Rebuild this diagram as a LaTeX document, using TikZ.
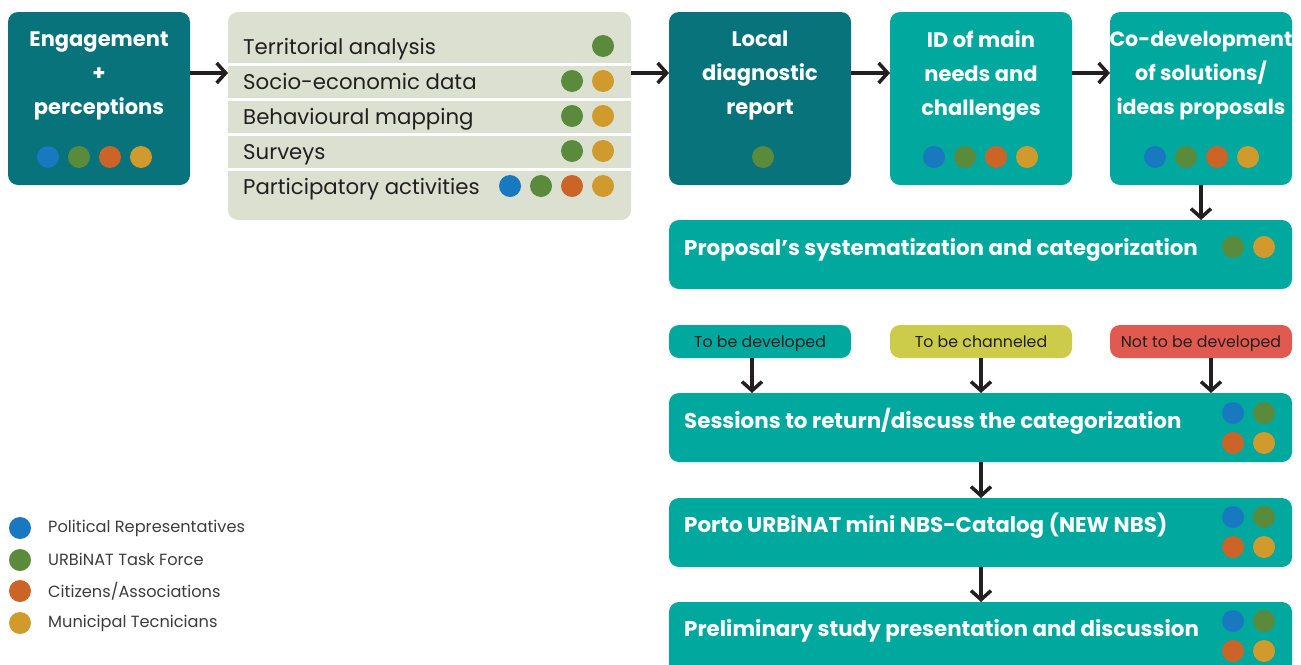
\documentclass[tikz,border=0pt]{standalone}
\usepackage{fontspec}
\setmainfont{Poppins}
\usetikzlibrary{arrows.meta,calc}

\definecolor{darkteal}{RGB}{8,115,123}
\definecolor{teal}{RGB}{0,168,157}
\definecolor{panel}{RGB}{219,224,208}
\definecolor{ink}{RGB}{35,31,32}
\definecolor{cblue}{RGB}{24,120,192}
\definecolor{cgreen}{RGB}{90,138,60}
\definecolor{corange}{RGB}{204,100,40}
\definecolor{cgold}{RGB}{208,155,44}
\definecolor{tagyellow}{RGB}{205,203,74}
\definecolor{tagred}{RGB}{224,90,80}
\definecolor{legtext}{RGB}{60,60,60}

\begin{document}
\begin{tikzpicture}[x=1pt,y=-1pt,
  box/.style={rounded corners=10pt, inner sep=0pt, outer sep=0pt, anchor=north west, draw=none},
  head/.style={text=white, font=\fontsize{21}{34}\selectfont\bfseries, align=center, inner sep=0pt},
  wide/.style={text=white, font=\fontsize{21.4}{24}\selectfont\bfseries, anchor=base west, inner sep=0pt},
  rowtext/.style={text=ink, font=\fontsize{21.3}{24}\selectfont, anchor=base west, inner sep=0pt},
  tagtext/.style={text=ink, font=\fontsize{15.8}{18}\selectfont, anchor=base, inner sep=0pt},
  legtxt/.style={text=legtext, font=\fontsize{16.2}{18}\selectfont, anchor=west, inner sep=0pt},
  dot/.style={circle, minimum size=22pt, inner sep=0pt, draw=none},
  arr/.style={draw=ink, line width=3.5pt, -{Straight Barb[length=9pt,width=20pt]}},
]
\useasboundingbox (0,0) rectangle (1301,664);
\clip (0,0) rectangle (1301,664);

% ---------- top row ----------
\node[box, fill=darkteal, minimum width=182pt, minimum height=173pt] (eng) at (8,12) {};
\node[head] (eng-t) at (99,76) {Engagement\\+\\perceptions};
\foreach \c [count=\i] in {cblue,cgreen,corange,cgold}
  \node[dot, fill=\c] (eng-d\i) at ({48+31*(\i-1)},157) {};

% activities panel
\node[box, fill=panel, minimum width=403pt, minimum height=208pt] (act) at (228,12) {};
\foreach \y in {64,99,134,169}
  \draw[white, line width=3pt] (act.west |- 0,\y) -- (act.east |- 0,\y);
\node[rowtext] (r1) at (243,54) {Territorial analysis};
\node[rowtext] (r2) at (243,89) {Socio-economic data};
\node[rowtext] (r3) at (243,124) {Behavioural mapping};
\node[rowtext] (r4) at (243,159) {Surveys};
\node[rowtext] (r5) at (243,194) {Participatory activities};
\node[dot, fill=cgreen] (r1-d1) at (603,46) {};
\node[dot, fill=cgreen] (r2-d1) at (572,81) {};
\node[dot, fill=cgold]  (r2-d2) at (603,81) {};
\node[dot, fill=cgreen] (r3-d1) at (572,116) {};
\node[dot, fill=cgold]  (r3-d2) at (603,116) {};
\node[dot, fill=cgreen] (r4-d1) at (572,151) {};
\node[dot, fill=cgold]  (r4-d2) at (603,151) {};
\foreach \c [count=\i] in {cblue,cgreen,corange,cgold}
  \node[dot, fill=\c] (r5-d\i) at ({510+31*(\i-1)},186) {};

% local diagnostic report
\node[box, fill=darkteal, minimum width=182pt, minimum height=173pt] (ldr) at (669,12) {};
\node[head] (ldr-t) at (760,76) {Local\\diagnostic\\report};
\node[dot, fill=cgreen] (ldr-d1) at (763,157) {};

% main needs and challenges
\node[box, fill=teal, minimum width=182pt, minimum height=173pt] (idn) at (890,12) {};
\node[head] (idn-t) at (981,76) {ID of main\\needs and\\challenges};
\foreach \c [count=\i] in {cblue,cgreen,corange,cgold}
  \node[dot, fill=\c] (idn-d\i) at ({934+31*(\i-1)},157) {};

% co-development
\node[box, fill=teal, minimum width=182pt, minimum height=173pt] (cod) at (1110,12) {};
\node[head, font=\fontsize{20.6}{34}\selectfont\bfseries] (cod-t) at (1201,76) {Co-development\\of solutions/\\ideas proposals};
\foreach \c [count=\i] in {cblue,cgreen,corange,cgold}
  \node[dot, fill=\c] (cod-d\i) at ({1155+31*(\i-1)},157) {};

% ---------- systematization ----------
\node[box, fill=teal, minimum width=623pt, minimum height=69pt] (sys) at (669,220) {};
\node[wide] (sys-t) at (684,255) {Proposal’s systematization and categorization};
\node[dot, fill=cgreen] (sys-d1) at (1233,247) {};
\node[dot, fill=cgold]  (sys-d2) at (1264,247) {};

% ---------- categories ----------
\node[box, fill=teal, minimum width=182pt, minimum height=33pt] (tag1) at (669,325) {};
\node[tagtext] (tag1-t) at (760,347) {To be developed};
\node[box, fill=tagyellow, minimum width=182pt, minimum height=33pt] (tag2) at (890,325) {};
\node[tagtext] (tag2-t) at (981,347) {To be channeled};
\node[box, fill=tagred, minimum width=182pt, minimum height=33pt] (tag3) at (1110,325) {};
\node[tagtext] (tag3-t) at (1201,347) {Not to be developed};

% ---------- lower steps ----------
\node[box, fill=teal, minimum width=623pt, minimum height=69pt] (ses) at (669,393) {};
\node[wide] (ses-t) at (684,428) {Sessions to return/discuss the categorization};
\node[box, fill=teal, minimum width=623pt, minimum height=69pt] (cat) at (669,498) {};
\node[wide] (cat-t) at (684,532) {Porto URBiNAT mini NBS-Catalog (NEW NBS)};
\node[box, fill=teal, minimum width=623pt, minimum height=80pt] (pre) at (669,602) {};
\node[wide] (pre-t) at (684,636) {Preliminary study presentation and discussion};

\foreach \b/\ya in {ses/413,cat/517,pre/621}{
  \node[dot, fill=cblue]   (\b-d1) at (1233,\ya) {};
  \node[dot, fill=cgreen]  (\b-d2) at (1264,\ya) {};
  \node[dot, fill=corange] (\b-d3) at (1233,\ya+30) {};
  \node[dot, fill=cgold]   (\b-d4) at (1264,\ya+30) {};
}

% ---------- connectors ----------
\draw[arr] (eng.east |- 0,73) -- (act.west |- 0,73);
\draw[arr] (act.east |- 0,73) -- (ldr.west |- 0,73);
\draw[arr] (ldr.east |- 0,73) -- (idn.west |- 0,73);
\draw[arr] (idn.east |- 0,73) -- (cod.west |- 0,73);
\draw[arr] (cod.south) -- (cod.south |- sys.north);
\draw[arr] ([xshift=-8pt]tag1.south) -- ([xshift=-8pt]tag1.south |- ses.north);
\draw[arr] (tag2.south) -- (tag2.south |- ses.north);
\draw[arr] ([xshift=10pt]tag3.south) -- ([xshift=10pt]tag3.south |- ses.north);
\draw[arr] (ses.south -| tag2.south) -- (cat.north -| tag2.south);
\draw[arr] (cat.south -| tag2.south) -- (pre.north -| tag2.south);

% ---------- legend ----------
\node[dot, fill=cblue]   (lg1) at (20,528) {};
\node[dot, fill=cgreen]  (lg2) at (20,560) {};
\node[dot, fill=corange] (lg3) at (20,591) {};
\node[dot, fill=cgold]   (lg4) at (20,623) {};
\node[legtxt] (lg1-t) at (48,528) {Political Representatives};
\node[legtxt] (lg2-t) at (48,559) {URBiNAT Task Force};
\node[legtxt] (lg3-t) at (48,591) {Citizens/Associations};
\node[legtxt] (lg4-t) at (48,623) {Municipal Tecnicians};
\end{tikzpicture}
\end{document}
